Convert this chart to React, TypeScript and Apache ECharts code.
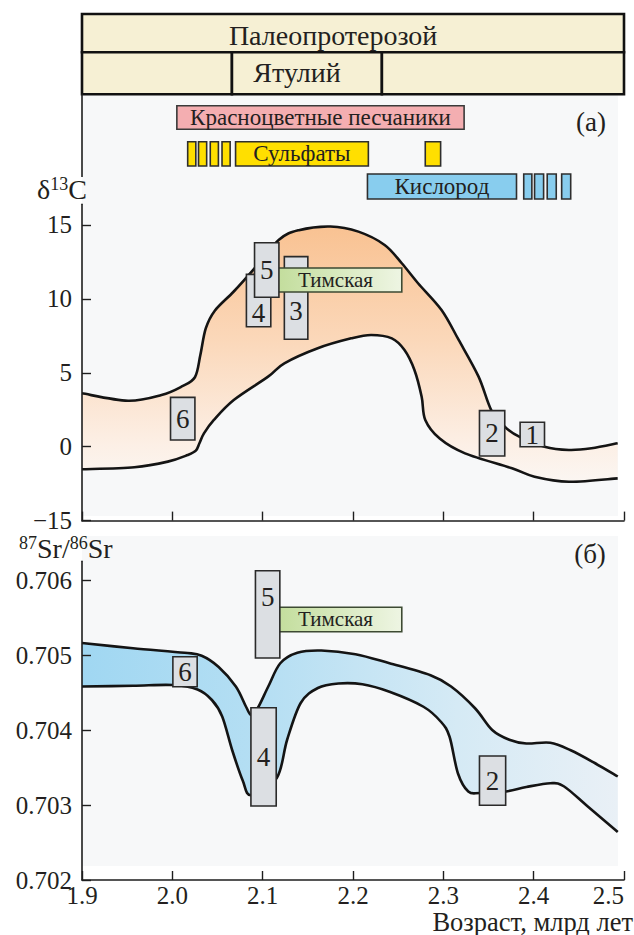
import React, { useEffect, useRef } from 'react';
import * as echarts from 'echarts';

// ---------------- data ----------------
const ageTickValues = [1.9, 2.0, 2.1, 2.2, 2.3, 2.4, 2.5];

// stratigraphic header (age spans, млрд лет)
const eraName = 'Палеопротерозой';
const eraSpan = [1.9, 2.5];
const stageName = 'Ятулий';
const stageSpan = [2.066, 2.232];
const redBedsName = 'Красноцветные песчаники';
const redBedsSpan = [2.005, 2.323];
const sulfateName = 'Сульфаты';
const sulfateSpan = [2.07, 2.217];
const sulfateMinor = [[2.017, 2.026], [2.029, 2.038], [2.042, 2.051], [2.055, 2.064], [2.28, 2.297]];
const oxygenName = 'Кислород';
const oxygenSpan = [2.216, 2.381];
const oxygenMinor = [[2.389, 2.398], [2.401, 2.411], [2.415, 2.425], [2.431, 2.441]];

// δ13C panel
const c13TickValues = [-5, 0, 5, 10, 15];
const c13TickLabels = ['−15', '0', '5', '10', '15'];
const c13UpperAge = [1.9, 1.951, 1.988, 2.01, 2.025, 2.031, 2.037, 2.047, 2.068, 2.09, 2.118, 2.14, 2.175, 2.206, 2.235, 2.254, 2.272, 2.298, 2.317, 2.339, 2.353, 2.368, 2.384, 2.412, 2.439, 2.464, 2.493];
const c13UpperVal = [3.61, 3.11, 3.5, 4.06, 4.7, 6.2, 8.0, 9.2, 10.5, 12.0, 14.0, 14.65, 14.9, 14.55, 13.65, 12.41, 11.06, 9.25, 7.22, 4.74, 2.48, 1.35, 0.68, 0.0, -0.22, -0.11, 0.23];
const c13LowerAge = [1.9, 1.958, 1.995, 2.017, 2.026, 2.03, 2.035, 2.046, 2.068, 2.106, 2.124, 2.161, 2.198, 2.22, 2.243, 2.257, 2.268, 2.276, 2.28, 2.296, 2.324, 2.376, 2.401, 2.439, 2.493];
const c13LowerVal = [-1.53, -1.39, -1.01, -0.56, -0.27, 0.23, 0.9, 1.81, 3.16, 4.74, 5.64, 6.66, 7.33, 7.56, 7.33, 6.54, 5.19, 3.38, 1.81, 0.55, -0.45, -1.46, -2.03, -2.37, -2.14];
// [label, age from, age to, value from, value to]
const c13Boxes: [string, number, number, number, number][] = [
  ['6', 1.998, 2.025, 0.45, 3.34],
  ['2', 2.34, 2.368, -0.63, 2.44],
  ['1', 2.385, 2.412, 0.0, 1.65],
  ['4', 2.082, 2.109, 8.12, 11.66],
  ['3', 2.124, 2.15, 7.27, 12.86],
  ['Тимская', 2.114, 2.254, 10.47, 12.09],
  ['5', 2.091, 2.118, 10.11, 13.8],
];

// 87Sr/86Sr panel
const srTickValues = [0.702, 0.703, 0.704, 0.705, 0.706];
const srTickLabels = ['0.702', '0.703', '0.704', '0.705', '0.706'];
const srUpperAge = [1.9, 1.9565, 2.0135, 2.0325, 2.0513, 2.0703, 2.0816, 2.0874, 2.0949, 2.1062, 2.1195, 2.1384, 2.165, 2.2027, 2.2404, 2.2858, 2.3086, 2.3351, 2.3541, 2.373, 2.3919, 2.4184, 2.441, 2.4676, 2.4931];
const srUpperVal = [0.70516, 0.70509, 0.70503, 0.70499, 0.70484, 0.70458, 0.70431, 0.7042, 0.7043, 0.70458, 0.70489, 0.70503, 0.70506, 0.70501, 0.70489, 0.70473, 0.70458, 0.70429, 0.704, 0.70387, 0.70382, 0.70383, 0.70373, 0.70356, 0.70338];
const srLowerAge = [1.9, 1.9565, 2.0002, 2.0279, 2.0438, 2.0552, 2.0663, 2.0778, 2.0874, 2.1156, 2.1271, 2.1421, 2.1611, 2.1838, 2.2104, 2.2404, 2.278, 2.2973, 2.3069, 2.3162, 2.3276, 2.3408, 2.3692, 2.3919, 2.4184, 2.4333, 2.4599, 2.4931];
const srLowerVal = [0.70458, 0.70459, 0.7046, 0.70454, 0.7044, 0.70418, 0.70373, 0.70333, 0.70313, 0.70336, 0.70387, 0.70436, 0.70456, 0.70462, 0.70461, 0.70451, 0.70431, 0.70411, 0.70391, 0.70342, 0.70318, 0.70316, 0.70318, 0.70324, 0.70329, 0.70325, 0.70298, 0.70264];
const srBoxes: [string, number, number, number, number][] = [
  ['6', 2.0006, 2.0275, 0.704577, 0.704977],
  ['2', 2.34, 2.369, 0.702996, 0.703653],
  ['4', 2.087, 2.115, 0.702987, 0.704297],
  ['Тимская', 2.114, 2.254, 0.705311, 0.705636],
  ['5', 2.092, 2.119, 0.70496, 0.706124],
];

// ---------------- layout / style ----------------
const FONT = "'Liberation Serif', 'Times New Roman', Times, 'DejaVu Serif', serif";
const INK = '#231f20';
const LINE = '#1e1e1e';
const W = 634;
const H = 935;
const GRID_LEFT = 82;
const GRID_RIGHT_PX = 624;
const TOP_GRID = [204.3, 520.6];
const BOT_GRID = [561.25, 880];
const HEADER_ROWS = { era: [14, 52.3], stage: [52.3, 94.3], red: [105.7, 129.3], sul: [141.7, 166], oxy: [174, 199] };
const HEADER_LABEL_AGE = { era: 2.178, stage: 2.138 };
const c13LabelPos: Record<string, number> = { '4': 0.74, '3': 0.66 };
const srLabelPos: Record<string, number> = { '5': 0.3 };

function crPath(pts: number[][], cmd: string) {
  const f = (n: number) => n.toFixed(2);
  let d = `${cmd}${f(pts[0][0])},${f(pts[0][1])}`;
  for (let i = 0; i < pts.length - 1; i++) {
    const p0 = pts[i - 1] || pts[i];
    const p1 = pts[i];
    const p2 = pts[i + 1];
    const p3 = pts[i + 2] || p2;
    const c1x = p1[0] + (p2[0] - p0[0]) / 6;
    const c1y = p1[1] + (p2[1] - p0[1]) / 6;
    const c2x = p2[0] - (p3[0] - p1[0]) / 6;
    const c2y = p2[1] - (p3[1] - p1[1]) / 6;
    d += ` C${f(c1x)},${f(c1y)} ${f(c2x)},${f(c2y)} ${f(p2[0])},${f(p2[1])}`;
  }
  return d;
}

const greenGrad = {
  type: 'linear', x: 0, y: 0, x2: 1, y2: 0,
  colorStops: [{ offset: 0, color: '#c2dd9b' }, { offset: 1, color: '#eef5e3' }],
};

function textEl(text: string, x: number, y: number, size: number, align = 'center') {
  return {
    type: 'text',
    style: { text, x, y, textAlign: align, textVerticalAlign: 'middle', fontSize: size, fontFamily: FONT, fill: INK },
  };
}

function boxEls(api: any, boxes: [string, number, number, number, number][], labelPos: Record<string, number>) {
  return boxes.map(([label, a0, a1, v0, v1]) => {
    const p0 = api.coord([a0, v1]);
    const p1 = api.coord([a1, v0]);
    const x = p0[0];
    const y = p0[1];
    const w = p1[0] - p0[0];
    const h = p1[1] - p0[1];
    const isName = label.length > 2;
    const fr = labelPos[label] ?? 0.5;
    return {
      type: 'group',
      children: [
        {
          type: 'rect',
          shape: { x, y, width: w, height: h },
          style: { fill: isName ? greenGrad : '#dcdfe3', stroke: isName ? '#3d4a33' : '#2a2a2a', lineWidth: 1.6 },
        },
        textEl(label, x + w / 2 - (isName ? 3 : 0), y + h * fr, isName ? 21 : 27),
      ],
    };
  });
}

function bandRender(upA: number[], upV: number[], loA: number[], loV: number[], fill: any, boxes: any, labelPos: any) {
  return (_p: any, api: any) => {
    const up = upA.map((a, i) => api.coord([a, upV[i]]));
    const lo = loA.map((a, i) => api.coord([a, loV[i]]));
    const fillD = crPath(up, 'M') + ' ' + crPath(lo.slice().reverse(), 'L') + ' Z';
    return {
      type: 'group',
      children: [
        { type: 'path', shape: { pathData: fillD }, style: { fill, stroke: 'none' } },
        { type: 'path', shape: { pathData: crPath(up, 'M') }, style: { fill: 'none', stroke: '#141414', lineWidth: 2.6, lineJoin: 'round' } },
        { type: 'path', shape: { pathData: crPath(lo, 'M') }, style: { fill: 'none', stroke: '#141414', lineWidth: 2.6, lineJoin: 'round' } },
        ...boxEls(api, boxes, labelPos),
      ],
    };
  };
}

function headerRender(_p: any, api: any) {
  const X = (a: number) => api.coord([a, 0])[0];
  const cell = (a0: number, a1: number, r: number[], fill: any, stroke: string, lw: number) => ({
    type: 'rect',
    shape: { x: X(a0), y: r[0], width: X(a1) - X(a0), height: r[1] - r[0] },
    style: { fill, stroke, lineWidth: lw },
  });
  const mid = (r: number[]) => (r[0] + r[1]) / 2;
  const cream = '#f6f0d4';
  const els: any[] = [
    cell(eraSpan[0], eraSpan[1], HEADER_ROWS.era, cream, '#111', 2.6),
    cell(eraSpan[0], stageSpan[0], HEADER_ROWS.stage, cream, '#111', 2.6),
    cell(stageSpan[0], stageSpan[1], HEADER_ROWS.stage, cream, '#111', 2.6),
    cell(stageSpan[1], eraSpan[1], HEADER_ROWS.stage, cream, '#111', 2.6),
    textEl(eraName, X(HEADER_LABEL_AGE.era), mid(HEADER_ROWS.era) + 2, 28),
    textEl(stageName, X(HEADER_LABEL_AGE.stage), mid(HEADER_ROWS.stage) - 0.5, 28),
    cell(redBedsSpan[0], redBedsSpan[1], HEADER_ROWS.red, '#f4aeb1', '#3a3a3a', 1.6),
    textEl(redBedsName, (X(redBedsSpan[0]) + X(redBedsSpan[1])) / 2, mid(HEADER_ROWS.red), 23),
    ...sulfateMinor.map((s) => cell(s[0], s[1], HEADER_ROWS.sul, '#ffdf00', '#2e2e2e', 1.6)),
    cell(sulfateSpan[0], sulfateSpan[1], HEADER_ROWS.sul, '#ffdf00', '#2e2e2e', 1.6),
    textEl(sulfateName, (X(sulfateSpan[0]) + X(sulfateSpan[1])) / 2, mid(HEADER_ROWS.sul), 23),
    cell(oxygenSpan[0], oxygenSpan[1], HEADER_ROWS.oxy, '#88cdee', '#2e2e2e', 1.6),
    ...oxygenMinor.map((s) => cell(s[0], s[1], HEADER_ROWS.oxy, '#88cdee', '#2e2e2e', 1.6)),
    textEl(oxygenName, (X(oxygenSpan[0]) + X(oxygenSpan[1])) / 2, mid(HEADER_ROWS.oxy), 23),
  ];
  return { type: 'group', children: els };
}

function labelFromTicks(values: number[], labels: string[]) {
  return (v: number) => {
    let best = 0;
    for (let i = 1; i < values.length; i++) if (Math.abs(values[i] - v) < Math.abs(values[best] - v)) best = i;
    return labels[best];
  };
}

const axisLineStyle = { color: LINE, width: 1.6 };

function xAxisCfg(gridIndex: number, showLabels: boolean) {
  return {
    gridIndex,
    type: 'value',
    min: ageTickValues[0],
    max: ageTickValues[ageTickValues.length - 1],
    interval: 0.1,
    z: 5,
    axisLine: { show: true, onZero: false, lineStyle: axisLineStyle },
    axisTick: { show: true, inside: true, length: 9, lineStyle: { color: LINE, width: 1.4 } },
    axisLabel: {
      show: showLabels, fontSize: 25, fontFamily: FONT, color: INK, margin: 3,
      showMinLabel: true, showMaxLabel: true, alignMaxLabel: 'right',
      formatter: labelFromTicks(ageTickValues, ageTickValues.map((v) => v.toFixed(1))),
    },
    splitLine: { show: false },
  };
}

function yAxisCfg(gridIndex: number, min: number, max: number, interval: number, vals: number[], labels: string[]) {
  return {
    gridIndex,
    type: 'value',
    min, max, interval,
    z: 5,
    axisLine: { show: true, onZero: false, lineStyle: axisLineStyle },
    axisTick: { show: true, inside: true, length: 9, lineStyle: { color: LINE, width: 1.4 } },
    axisLabel: { show: true, fontSize: 25, fontFamily: FONT, color: INK, margin: 10, formatter: labelFromTicks(vals, labels) },
    splitLine: { show: false },
  };
}

export default function App() {
  const ref = useRef<HTMLDivElement>(null);
  useEffect(() => {
    if (!ref.current) return;
    const chart = echarts.init(ref.current, null, { renderer: 'svg' });
    const topFill = {
      type: 'linear', x: 0, y: 0, x2: 0, y2: 1,
      colorStops: [
        { offset: 0, color: '#f9c292' },
        { offset: 0.45, color: '#fbd8ba' },
        { offset: 0.85, color: '#fcefe5' },
        { offset: 1, color: '#fbf6f2' },
      ],
    };
    const botFill = {
      type: 'linear', x: 0, y: 0, x2: 1, y2: 0,
      colorStops: [
        { offset: 0, color: '#a0d7f2' },
        { offset: 0.35, color: '#b6dff3' },
        { offset: 0.7, color: '#d5eaf5' },
        { offset: 1, color: '#e9f0f6' },
      ],
    };
    const rich = {
      a: { fontSize: 28, fontFamily: FONT, fill: INK, verticalAlign: 'bottom' },
      b: { fontSize: 18, fontFamily: FONT, fill: INK, verticalAlign: 'top' },
    };
    chart.setOption({
      animation: false,
      backgroundColor: '#ffffff',
      textStyle: { fontFamily: FONT },
      grid: [
        { left: GRID_LEFT, width: GRID_RIGHT_PX - GRID_LEFT, top: TOP_GRID[0], height: TOP_GRID[1] - TOP_GRID[0], outerBoundsMode: 'none', containLabel: false },
        { left: GRID_LEFT, width: GRID_RIGHT_PX - GRID_LEFT, top: BOT_GRID[0], height: BOT_GRID[1] - BOT_GRID[0], outerBoundsMode: 'none', containLabel: false },
      ],
      xAxis: [xAxisCfg(0, false), xAxisCfg(1, true)],
      yAxis: [
        yAxisCfg(0, -5, 16.4, 5, c13TickValues, c13TickLabels),
        yAxisCfg(1, 0.702, 0.70625, 0.001, srTickValues, srTickLabels),
      ],
      graphic: {
        elements: [
          { type: 'rect', z: -10, silent: true, shape: { x: GRID_LEFT, y: 94, width: 536, height: 422 }, style: { fill: '#f7f8f9' } },
          { type: 'rect', z: -10, silent: true, shape: { x: GRID_LEFT, y: 536, width: 536, height: 330 }, style: { fill: '#f7f8f9' } },
          { type: 'line', z: 5, silent: true, shape: { x1: GRID_LEFT, y1: 94, x2: GRID_LEFT, y2: 177 }, style: { stroke: LINE, lineWidth: 1.6 } },
          { type: 'text', z: 10, x: 37, y: 189, style: { text: '{a|δ}{b|13}{a|C}', rich, textVerticalAlign: 'middle', textAlign: 'left' } },
          { type: 'text', z: 10, x: 19, y: 548, style: { text: '{b|87}{a|Sr/}{b|86}{a|Sr}', rich, textVerticalAlign: 'middle', textAlign: 'left' } },
          { type: 'text', z: 10, x: 591, y: 122, style: { text: '(а)', fontSize: 27, fontFamily: FONT, fill: INK, textAlign: 'center', textVerticalAlign: 'middle' } },
          { type: 'text', z: 10, x: 590, y: 554, style: { text: '(б)', fontSize: 27, fontFamily: FONT, fill: INK, textAlign: 'center', textVerticalAlign: 'middle' } },
          { type: 'text', z: 10, x: 633, y: 921.5, style: { text: 'Возраст, млрд лет', fontSize: 26.5, fontFamily: FONT, fill: INK, textAlign: 'right', textVerticalAlign: 'middle' } },
        ],
      },
      series: [
        {
          type: 'custom', coordinateSystem: 'cartesian2d', xAxisIndex: 0, yAxisIndex: 0, clip: false, silent: true, z: 3,
          data: [[1.9, 0]],
          renderItem: headerRender,
        },
        {
          type: 'custom', coordinateSystem: 'cartesian2d', xAxisIndex: 0, yAxisIndex: 0, clip: false, silent: true, z: 2,
          data: [[1.9, 0]],
          renderItem: bandRender(c13UpperAge, c13UpperVal, c13LowerAge, c13LowerVal, topFill, c13Boxes, c13LabelPos),
        },
        {
          type: 'custom', coordinateSystem: 'cartesian2d', xAxisIndex: 1, yAxisIndex: 1, clip: false, silent: true, z: 2,
          data: [[1.9, 0.703]],
          renderItem: bandRender(srUpperAge, srUpperVal, srLowerAge, srLowerVal, botFill, srBoxes, srLabelPos),
        },
      ],
    });
    return () => chart.dispose();
  }, []);
  return <div ref={ref} style={{ position: 'absolute', left: 0, top: 0, width: W, height: H }} />;
}
